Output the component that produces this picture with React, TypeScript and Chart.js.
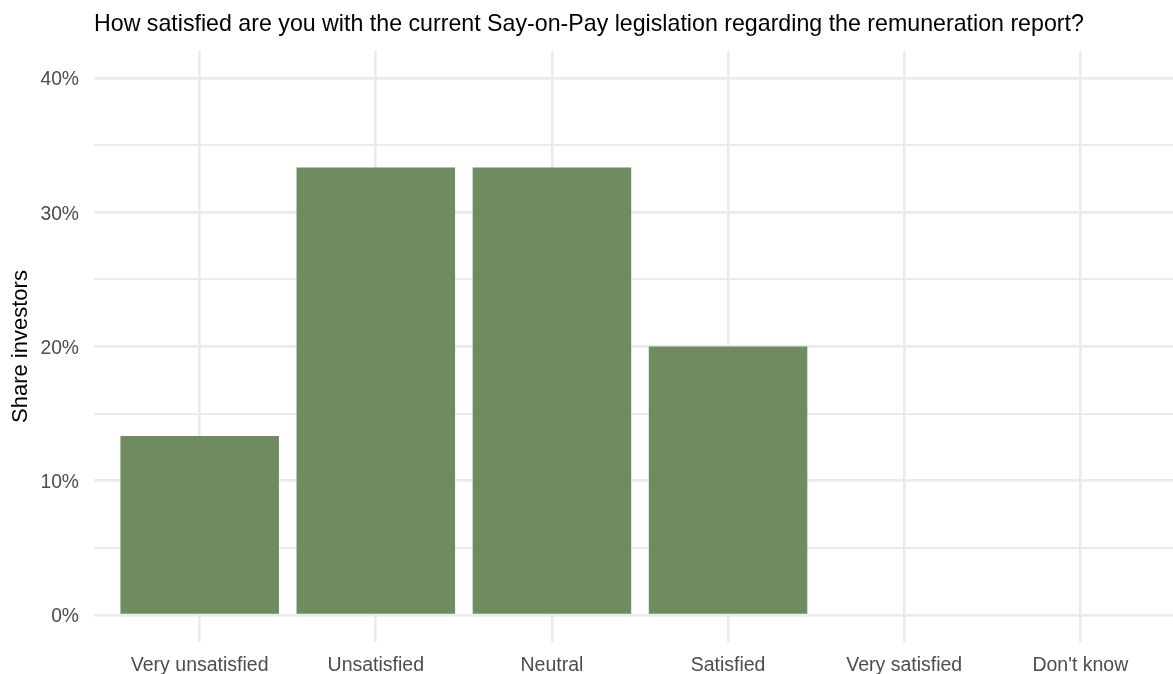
import React, { useEffect, useRef } from "react";
import { Chart, registerables } from "chart.js";

Chart.register(...registerables);

const categories = ["Very unsatisfied", "Unsatisfied", "Neutral", "Satisfied", "Very satisfied", "Don't know"];
const shareValues = [13.33, 33.33, 33.33, 20, 0, 0];
const yTickValues = [0, 5, 10, 15, 20, 25, 30, 35, 40];
const titleText = "How satisfied are you with the current Say-on-Pay legislation regarding the remuneration report?";
const yTitle = "Share investors";

const FONT = "'Liberation Sans', Arial, sans-serif";

export default function App() {
  const ref = useRef<HTMLCanvasElement | null>(null);
  useEffect(() => {
    if (!ref.current) return;
    const chart = new Chart(ref.current, {
      type: "bar",
      data: {
        datasets: [
          {
            label: "Share",
            data: shareValues.map((v, i) => ({ x: i, y: v })),
            backgroundColor: "#708B5F",
            borderWidth: 0,
            barPercentage: 0.9,
            categoryPercentage: 1.0,
          },
        ],
      },
      options: {
        responsive: false,
        animation: false,
        layout: { padding: { left: 0, right: 4, top: 0, bottom: 0 } },
        plugins: {
          legend: { display: false },
          tooltip: { enabled: false },
          title: {
            display: true,
            text: titleText,
            align: "start",
            fullSize: false,
            color: "#000000",
            font: { family: FONT, size: 23.2, weight: "normal" },
            padding: { top: 10.5, bottom: 12.7 },
          },
        },
        scales: {
          x: {
            type: "linear",
            min: -0.6,
            max: 5.6,
            offset: false,
            afterBuildTicks: (scale: any) => {
              scale.ticks = categories.map((_, i) => ({ value: i }));
            },
            afterFit: (scale: any) => {
              scale.height = 58;
            },
            grid: {
              color: "#EBEBEB",
              lineWidth: 2.7,
              drawTicks: false,
              tickLength: 0,
              offset: false,
            },
            border: { display: false },
            ticks: {
              autoSkip: false,
              maxRotation: 0,
              minRotation: 0,
              padding: 12,
              color: "#4D4D4D",
              font: { family: FONT, size: 19.5 },
              callback: (v: any) => categories[Math.round(Number(v))] ?? "",
            },
          },
          y: {
            type: "linear",
            min: -2,
            max: 42,
            afterBuildTicks: (scale: any) => {
              scale.ticks = yTickValues.map((v) => ({ value: v }));
            },
            afterFit: (scale: any) => {
              scale.width = 94;
            },
            grid: {
              color: "#EBEBEB",
              lineWidth: (ctx: any) => (ctx.tick && ctx.tick.value % 10 === 0 ? 2.7 : 2),
              drawTicks: false,
              tickLength: 0,
              offset: false,
            },
            border: { display: false },
            ticks: {
              padding: 15,
              labelOffset: 2,
              color: "#4D4D4D",
              font: { family: FONT, size: 19.3 },
              callback: (v: any) => (Number(v) % 10 === 0 ? `${v}%` : ""),
            },
            title: {
              display: true,
              text: yTitle,
              color: "#000000",
              font: { family: FONT, size: 22 },
              padding: { top: 8, bottom: 0 },
            },
          },
        },
      },
    });
    return () => chart.destroy();
  }, []);

  return (
    <div
      style={{
        position: "absolute",
        left: 0,
        top: 0,
        width: 1173,
        height: 674,
        overflow: "hidden",
        background: "#ffffff",
      }}
    >
      <canvas ref={ref} width={1190} height={700} style={{ display: "block" }} />
    </div>
  );
}
